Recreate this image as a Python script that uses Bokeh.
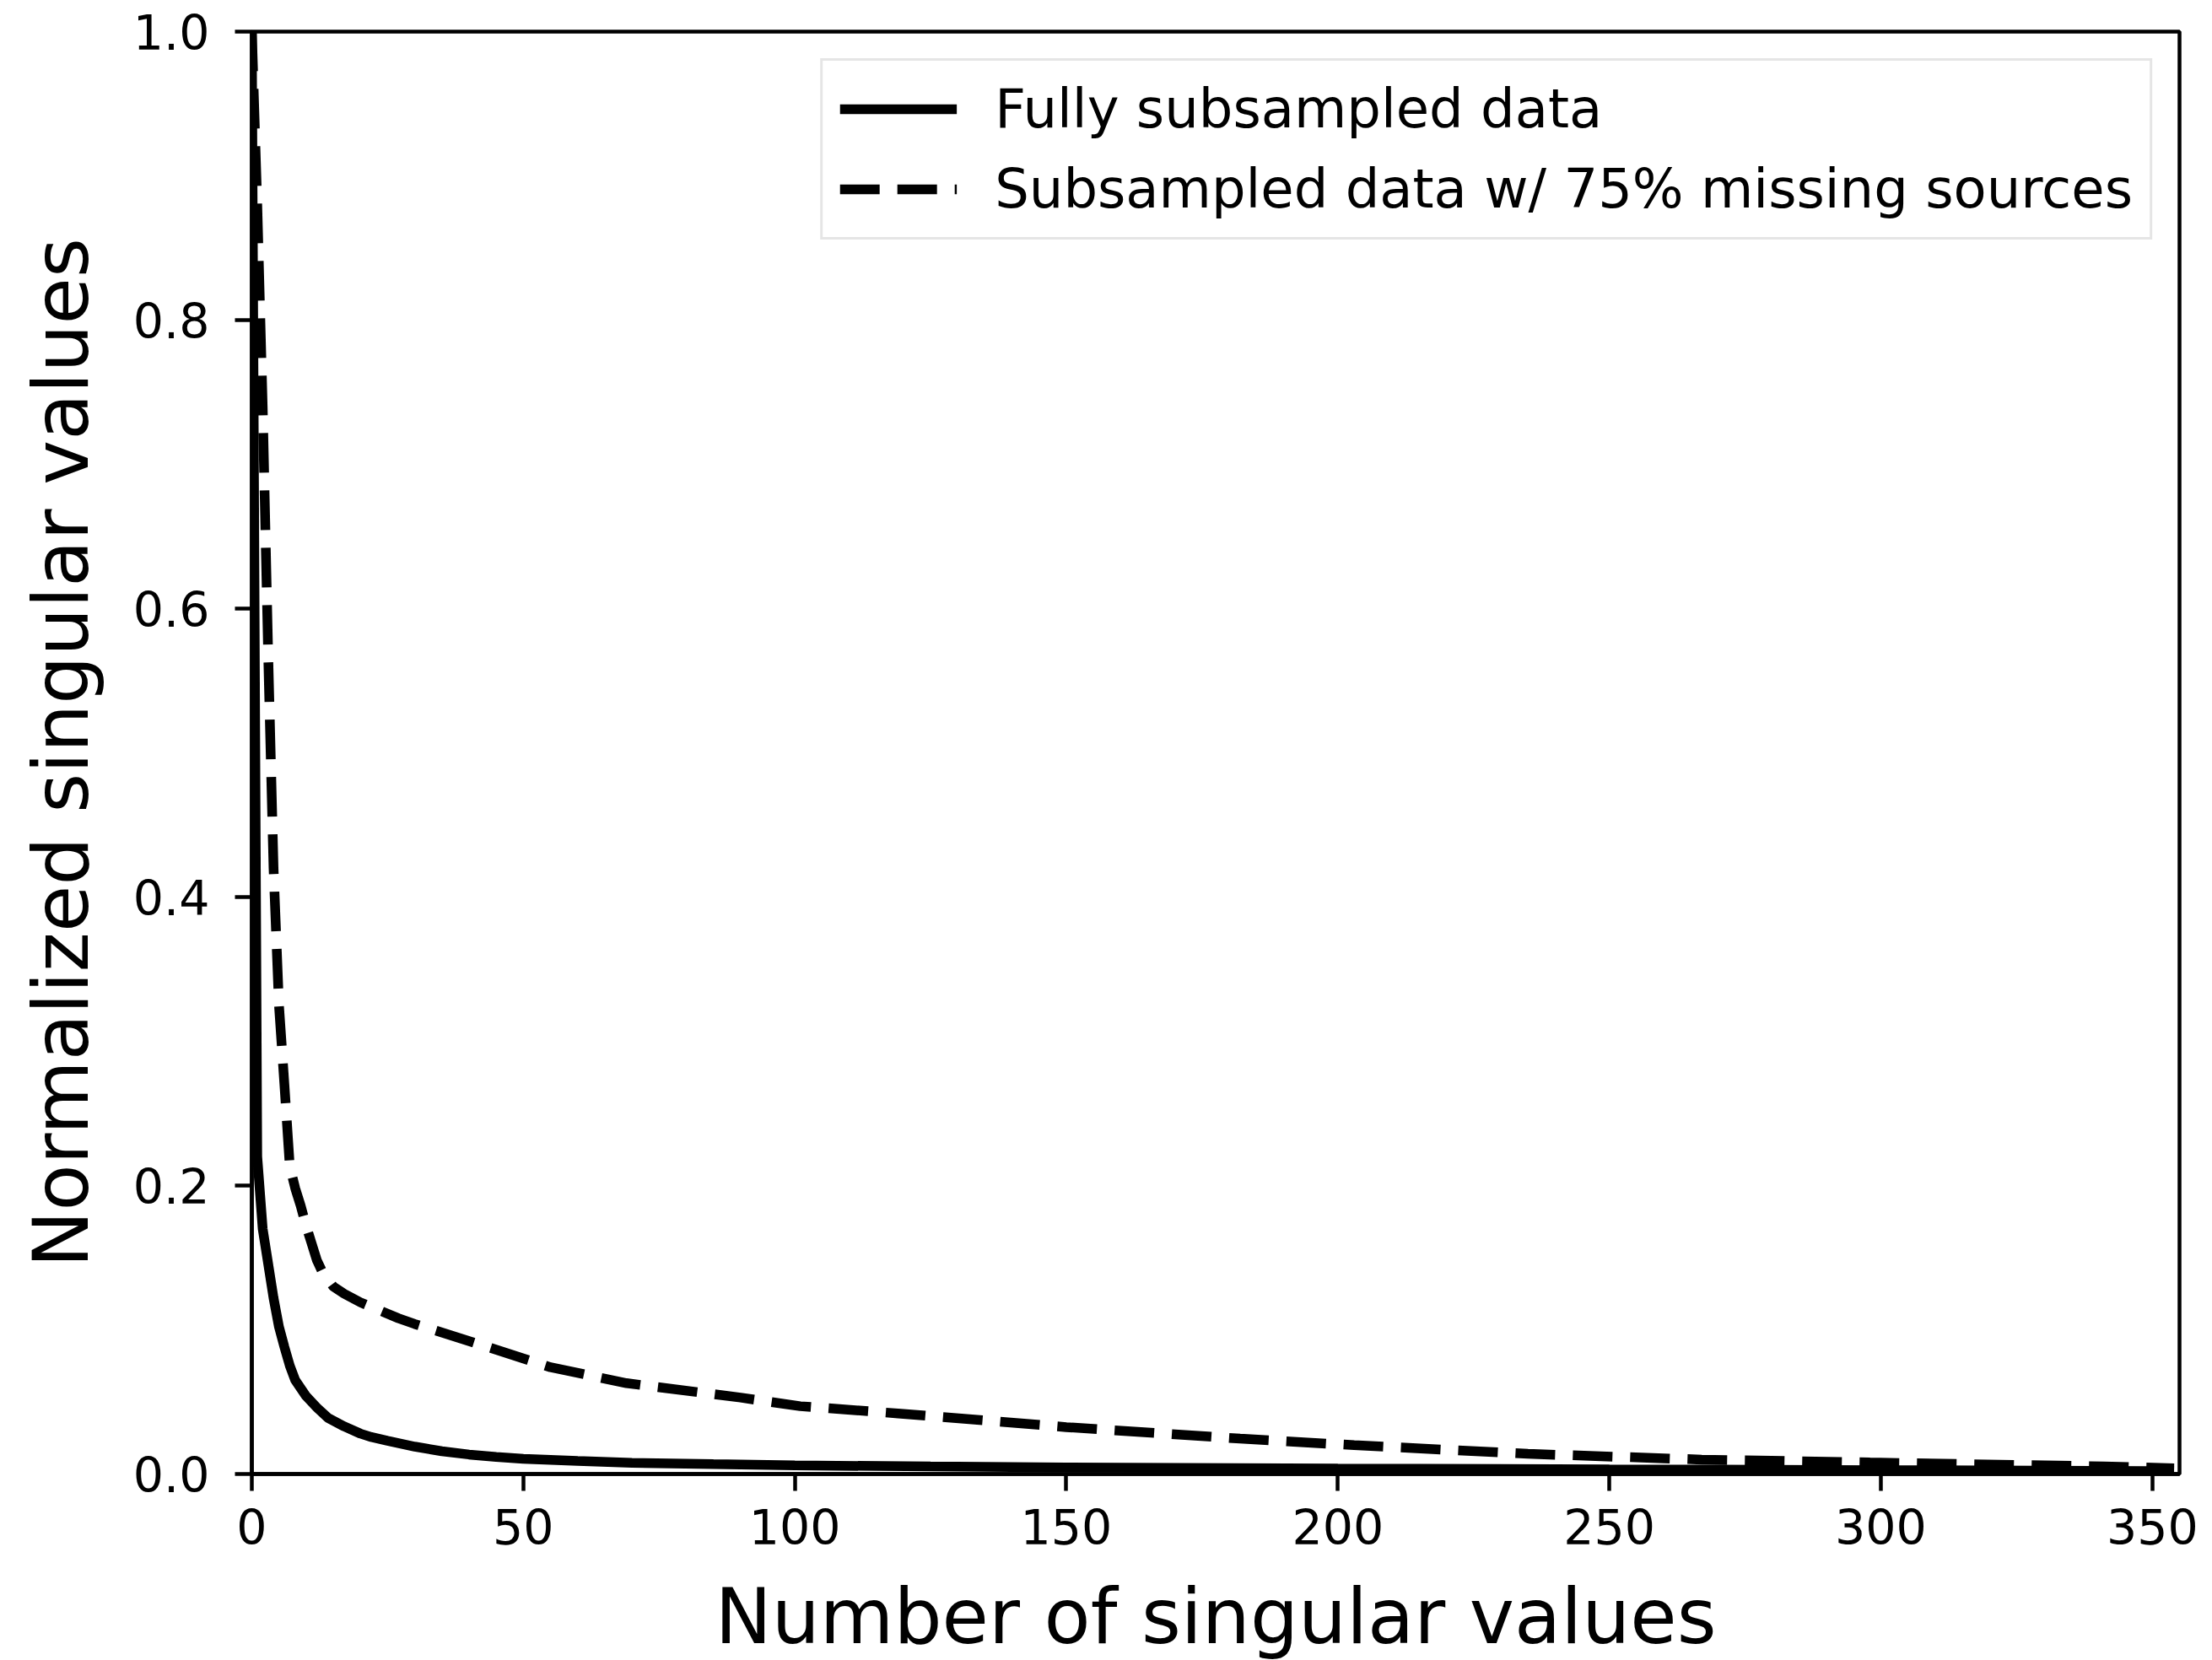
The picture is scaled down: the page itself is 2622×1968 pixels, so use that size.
from bokeh.plotting import figure
from bokeh.models import ColumnDataSource, FixedTicker, PrintfTickFormatter, Range1d, Legend, LegendItem
from bokeh.embed import file_html
from bokeh.resources import INLINE

# ---- data ----
full_idx = [0, 1, 2, 3, 4, 5, 6, 7, 8, 10, 12, 14, 17, 20, 22, 25, 30, 35, 40, 45, 50,
            60, 70, 85, 100, 125, 150, 200, 250, 300, 354]
full_val = [1.0, 0.22, 0.17, 0.146, 0.122, 0.102, 0.088, 0.075, 0.065, 0.054, 0.046, 0.039,
            0.033, 0.028, 0.0256, 0.023, 0.019, 0.0158, 0.0135, 0.0118, 0.0105, 0.009,
            0.0078, 0.0068, 0.006, 0.0052, 0.0046, 0.0038, 0.0032, 0.0027, 0.002]

missing_idx = [0, 1, 2, 3, 4, 5, 6, 7, 8, 9, 10, 11, 12, 13, 15, 17, 20, 27, 30, 41, 55,
               69, 90, 101, 119, 150, 182, 203, 235, 267, 298, 341, 354]
missing_val = [1.0, 0.88, 0.74, 0.57, 0.42, 0.325, 0.27, 0.213, 0.198, 0.186, 0.172, 0.16,
               0.148, 0.14, 0.13, 0.125, 0.119, 0.108, 0.104, 0.091, 0.074, 0.063, 0.053,
               0.047, 0.042, 0.0325, 0.0245, 0.02, 0.014, 0.010, 0.008, 0.0053, 0.004]

x_ticks = [0, 50, 100, 150, 200, 250, 300, 350]
y_ticks = [0.0, 0.2, 0.4, 0.6, 0.8, 1.0]

series_labels = ["Fully subsampled data", "Subsampled data w/ 75% missing sources"]
x_label = "Number of singular values"
y_label = "Normalized singular values"

FONT = "DejaVu Sans"

p = figure(
    output_backend="svg", toolbar_location=None,
    frame_width=2285, frame_height=1710,
    min_border_left=298, min_border_right=31, min_border_top=37, min_border_bottom=205,
    x_range=Range1d(0, 355), y_range=Range1d(0, 1.0),
)
p.background_fill_color = "white"
p.border_fill_color = "white"
p.grid.visible = False
p.outline_line_color = "black"
p.outline_line_width = 4.5

src_full = ColumnDataSource(dict(x=full_idx, y=full_val))
src_miss = ColumnDataSource(dict(x=missing_idx, y=missing_val))

r1 = p.line("x", "y", source=src_full, line_color="black", line_width=11.5)
r2 = p.line("x", "y", source=src_miss, line_color="black", line_width=11.5,
            line_dash="47 21")

for ax, ticks in ((p.xaxis[0], x_ticks), (p.yaxis[0], y_ticks)):
    ax.ticker = FixedTicker(ticks=ticks)
    ax.minor_tick_line_color = None
    ax.major_tick_out = 20
    ax.major_tick_in = 0
    ax.major_tick_line_width = 4.5
    ax.axis_line_width = 4.5
    ax.major_label_text_font = FONT
    ax.major_label_text_font_size = "57px"
    ax.major_label_text_color = "black"
    ax.axis_label_text_font = FONT
    ax.axis_label_text_font_size = "90px"
    ax.axis_label_text_font_style = "normal"
    ax.axis_label_text_color = "black"

p.xaxis[0].axis_label = x_label
p.yaxis[0].axis_label = y_label
p.yaxis[0].formatter = PrintfTickFormatter(format="%.1f")
p.xaxis[0].major_label_standoff = 21
p.xaxis[0].axis_label_standoff = 30
p.yaxis[0].major_label_standoff = 30
p.yaxis[0].axis_label_standoff = 30

legend = Legend(items=[LegendItem(label=series_labels[0], renderers=[r1]),
                       LegendItem(label=series_labels[1], renderers=[r2])],
                location="top_right")
legend.margin = 32
legend.padding = 20
legend.spacing = 21
legend.glyph_width = 139
legend.glyph_height = 62
legend.label_height = 62
legend.label_standoff = 45
legend.label_text_font = FONT
legend.label_text_font_size = "64px"
legend.label_text_color = "black"
legend.border_line_color = "#cccccc"
legend.border_line_width = 3
legend.background_fill_color = "white"
legend.background_fill_alpha = 0.8
p.add_layout(legend, "center")

open("out.html", "w").write(file_html(p, INLINE))
